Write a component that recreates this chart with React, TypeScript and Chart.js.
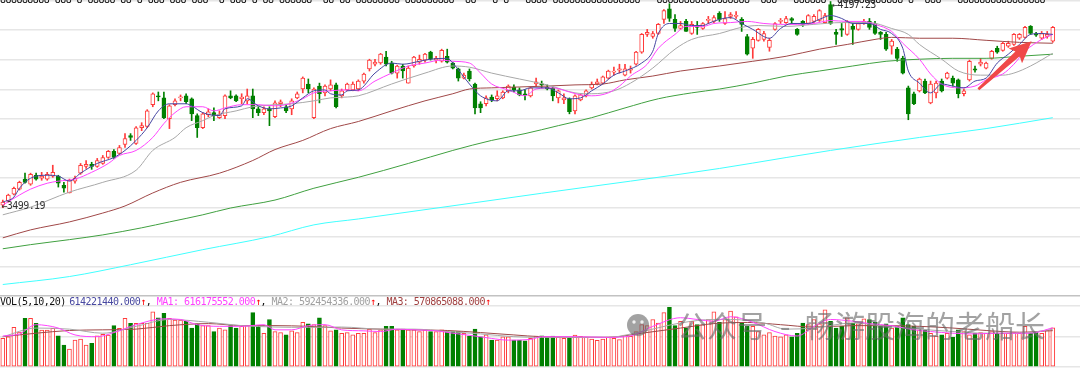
import React, { useEffect, useRef } from "react";
import { Chart, registerables } from "chart.js";

Chart.register(...registerables);

// ---------------- data (daily K-line, index 0..189) ----------------
const opens = [3508,3522,3545,3562,3596,3579,3609,3599,3596,3606,
3606,3575,3549,3589,3616,3639,3646,3639,3649,3669,
3690,3683,3713,3743,3717,3770,3774,3848,3878,3871,
3801,3848,3871,3878,3868,3811,3770,3814,3821,3804,
3811,3878,3878,3868,3861,3878,3834,3821,3834,3807,
3851,3841,3834,3871,3901,3918,3804,3911,3888,3901,
3915,3878,3898,3898,3901,3928,3969,3985,3989,4009,
3989,3955,3979,3921,3979,3992,3999,4026,3999,3995,
4012,3989,3969,3938,3962,3918,3851,3851,3874,3868,
3871,3895,3908,3898,3885,3878,3918,3918,3908,3905,
3871,3864,3868,3827,3864,3878,3905,3918,3921,3938,
3958,3965,3948,3965,3985,4026,4086,4079,4089,4137,
4173,4137,4106,4130,4089,4116,4106,4133,4130,4157,
4123,4147,4147,4137,4079,4039,4066,4069,4042,4103,
4130,4126,4140,4103,4130,4123,4130,4133,4126,4187,
4093,4106,4086,4113,4103,4126,4130,4123,4093,4086,
4046,4036,4005,3905,3885,3895,3928,3854,3888,3928,
3938,3938,3932,3885,3932,3969,3985,3972,4005,4039,
4032,4046,4052,4073,4076,4113,4089,4073,4079,4063];

const closes = [3518,3542,3565,3585,3585,3612,3596,3606,3612,3619,
3582,3565,3592,3599,3643,3646,3639,3659,3669,3690,
3669,3703,3733,3737,3770,3777,3827,3885,3874,3804,
3844,3861,3874,3858,3817,3770,3817,3824,3811,3814,
3878,3871,3861,3874,3878,3834,3821,3834,3827,3854,
3858,3827,3861,3885,3938,3901,3901,3885,3911,3915,
3841,3895,3918,3918,3928,3952,3999,3992,4019,3985,
3955,3979,3962,3972,4009,4002,4019,4002,4005,4032,
3992,3972,3938,3948,3935,3837,3837,3871,3864,3878,
3891,3911,3898,3881,3881,3905,3925,3915,3901,3878,
3895,3871,3824,3878,3881,3895,3918,3925,3942,3962,
3962,3969,3969,3969,4026,4086,4093,4089,4120,4167,
4140,4106,4116,4096,4120,4110,4123,4137,4143,4137,
4140,4153,4150,4120,4019,4069,4103,4089,4066,4123,
4133,4140,4133,4086,4120,4150,4147,4167,4150,4123,
4086,4100,4130,4103,4123,4130,4110,4089,4086,4036,
4063,4005,3955,3817,3851,3935,3888,3918,3921,3895,
3955,3921,3885,3895,3995,3965,3992,3989,4029,4026,
4056,4056,4086,4086,4110,4089,4083,4089,4086,4110];

const highs = [3525,3545,3569,3589,3616,3616,3616,3619,3619,3643,
3609,3585,3596,3606,3649,3659,3653,3666,3676,3693,
3696,3710,3750,3750,3774,3787,3831,3888,3891,3891,
3848,3868,3881,3885,3871,3817,3821,3834,3837,3827,
3881,3895,3881,3885,3901,3901,3841,3841,3841,3861,
3864,3848,3868,3891,3942,3935,3905,3921,3915,3932,
3921,3901,3921,3925,3932,3955,4002,4002,4022,4029,
3995,3982,3985,3979,4012,4016,4022,4029,4012,4036,
4036,3992,3972,3955,3969,3921,3858,3878,3881,3895,
3895,3915,3915,3905,3898,3908,3938,3928,3915,3908,
3898,3885,3871,3881,3885,3898,3925,3935,3945,3965,
3975,3985,3985,3979,4029,4089,4103,4096,4123,4170,
4190,4153,4130,4137,4130,4130,4126,4147,4150,4163,
4163,4160,4163,4143,4086,4076,4106,4096,4073,4126,
4140,4147,4143,4106,4133,4153,4153,4170,4157,4197.23,
4103,4123,4133,4123,4126,4137,4140,4130,4096,4093,
4069,4042,4012,3911,3891,3938,3935,3928,3928,3935,
3958,3945,3935,3901,3999,3979,4005,3992,4032,4046,
4059,4063,4089,4089,4113,4116,4093,4096,4096,4113];

const lows = [3499.19,3518,3542,3559,3582,3575,3592,3592,3592,3602,
3569,3552,3549,3582,3612,3632,3629,3636,3646,3666,
3666,3680,3703,3727,3713,3760,3770,3841,3861,3801,
3767,3844,3861,3851,3794,3737,3767,3807,3794,3801,
3801,3868,3858,3851,3851,3804,3811,3814,3777,3804,
3841,3821,3814,3868,3888,3888,3801,3854,3878,3895,
3837,3871,3895,3895,3895,3921,3962,3979,3985,3979,
3952,3938,3938,3921,3975,3985,3992,3999,3989,3992,
3989,3969,3928,3935,3928,3817,3821,3844,3858,3861,
3868,3888,3891,3878,3864,3874,3911,3905,3898,3861,
3854,3851,3817,3817,3861,3874,3901,3915,3918,3935,
3948,3955,3945,3955,3982,4022,4079,4073,4086,4123,
4130,4096,4103,4096,4086,4086,4103,4123,4126,4130,
4120,4140,4140,4096,4016,4005,4063,4063,4029,4100,
4123,4123,4123,4083,4113,4120,4126,4130,4123,4120,
4052,4079,4083,4052,4100,4120,4103,4086,4069,4032,
4019,3995,3952,3797,3848,3891,3885,3851,3871,3891,
3935,3911,3871,3878,3928,3958,3979,3969,4002,4022,
4029,4042,4049,4069,4073,4086,4079,4069,4073,4059];

// volume in millions of shares
const volumesM = [450,475,623,550,765,765,686,581,581,607,
491,345,283,424,440,345,372,491,513,502,
650,607,765,686,686,686,686,868,774,843,
765,738,738,719,612,680,650,650,557,612,
584,650,612,639,650,855,650,531,747,557,
540,504,570,540,700,680,665,774,650,570,
584,531,540,504,531,531,595,540,584,639,
639,584,595,584,584,557,584,557,557,584,
557,557,557,531,487,595,476,504,422,422,
476,476,422,422,410,449,487,490,470,485,
470,450,460,500,480,470,440,420,440,470,
450,430,500,480,557,665,650,747,692,855,
936,650,719,612,719,665,665,747,865,700,
747,880,790,692,639,639,557,504,540,487,
476,504,476,531,692,665,747,680,898,719,
612,639,774,692,680,758,747,700,639,680,
612,639,774,665,639,584,584,531,487,504,
531,465,584,557,504,531,540,531,557,531,
531,531,540,531,639,531,557,531,575,614.22144];

// price moving averages, read at sample indices
const ma5X = [0,2,3,5,8,10,12,14,17,20,22,24,26,28,30,31,33,34,36,39,40,43,44,46,48,50,52,54,56,58,59,61,62,64,67,70,72,75,77,80,81,84,86,89,91,93,95,98,100,102,104,106,108,110,112,115,117,118,120,122,124,126,127,129,131,133,135,138,140,142,145,147,149,151,153,156,158,160,162,163,165,167,169,171,173,175,177,179,181,183,185,187,189];
const ma5Y = [3518,3535,3565,3599,3609,3606,3589,3616,3649,3669,3693,3727,3770,3827,3851,3851,3851,3844,3821,3811,3834,3844,3868,3844,3834,3837,3844,3871,3895,3898,3885,3881,3895,3898,3955,3989,3985,3995,4002,4005,3989,3918,3878,3861,3895,3895,3905,3905,3888,3868,3871,3895,3918,3948,3962,3989,4029,4089,4123,4123,4116,4116,4123,4137,4143,4123,4103,4073,4106,4123,4123,4137,4150,4140,4123,4123,4103,4089,4039,3962,3921,3888,3918,3911,3905,3928,3938,3989,4019,4052,4086,4089,4086];

const ma10X = [0,3,5,8,10,13,16,19,21,24,27,29,31,33,36,38,40,43,46,49,51,54,56,59,62,64,67,70,73,76,79,81,84,86,88,91,94,96,99,102,104,106,109,111,113,116,118,121,123,126,128,131,134,137,140,143,146,149,152,155,157,160,162,165,167,169,172,175,177,180,182,184,187,189];
const ma10Y = [3508,3542,3562,3582,3589,3596,3619,3649,3676,3693,3737,3784,3821,3841,3841,3827,3837,3848,3848,3844,3848,3868,3888,3895,3898,3895,3928,3955,3979,3989,3999,3995,3989,3955,3918,3898,3878,3901,3905,3891,3881,3878,3888,3911,3945,3985,4039,4086,4113,4113,4123,4126,4130,4123,4120,4120,4123,4133,4130,4130,4120,4096,4056,4002,3952,3918,3905,3911,3932,3952,3985,4029,4069,4086];

const ma20X = [0,5,12,18,24,27,31,33,36,38,42,45,49,52,56,59,62,64,70,76,81,84,88,93,98,103,106,110,113,117,121,124,129,133,136,141,146,151,156,160,163,165,169,172,176,180,182,185,189];
const ma20Y = [3475,3501,3552,3585,3626,3693,3737,3770,3794,3811,3827,3841,3848,3851,3861,3871,3874,3878,3918,3955,3979,3975,3955,3935,3915,3888,3885,3895,3921,3972,4036,4069,4089,4110,4116,4113,4120,4126,4126,4106,4086,4052,4002,3962,3948,3948,3955,3979,4022];

const ma60X = [0,5,12,18,22,27,32,39,45,49,54,59,64,70,76,81,84,88,93,98,103,108,112,117,122,129,135,141,147,152,157,160,165,171,177,183,189];
const ma60Y = [3397,3424,3451,3481,3505,3549,3585,3616,3659,3696,3727,3767,3791,3827,3861,3885,3901,3905,3908,3911,3915,3918,3932,3945,3962,3979,3995,4012,4036,4052,4069,4076,4073,4073,4066,4059,4056];

const ma120X = [0,5,12,18,25,30,36,41,49,56,64,73,81,88,94,100,106,112,118,124,129,135,141,147,153,159,165,171,177,183,189];
const ma120Y = [3360,3374,3391,3407,3431,3451,3475,3498,3525,3565,3602,3649,3693,3727,3750,3777,3804,3837,3868,3888,3901,3921,3945,3962,3979,3995,4002,4005,4005,4012,4019];

const ma250X = [0,12,23,36,48,56,64,97,129,141,149,165,177,189];
const ma250Y = [3239,3266,3306,3357,3401,3441,3461,3548,3632,3669,3693,3737,3767,3804];

// volume moving averages (millions)
const vma1X = [0,3,6,8,10,13,17,20,24,29,32,35,39,43,47,49,52,55,58,61,65,68,71,74,78,81,85,88,91,95,97,103,109,113,117,122,125,128,131,135,139,143,146,149,153,156,160,164,167,171,175,179,182,185,189];
const vma1Y = [487,520,665,650,612,504,476,541,665,758,747,665,639,639,665,584,584,650,665,584,568,557,595,584,568,531,487,449,422,433,476,476,466,487,639,774,747,719,790,703,557,487,639,747,719,682,650,584,557,531,520,531,531,531,616];
const vma2X = [0,6,12,18,24,30,37,43,49,55,61,68,74,80,86,92,97,109,115,122,128,131,137,141,146,153,159,165,171,177,183,189];
const vma2Y = [476,612,595,531,639,747,703,650,628,623,628,595,595,557,520,476,466,466,557,692,747,747,692,595,612,692,639,595,557,531,531,592];
const vma3X = [0,6,12,18,24,30,37,43,49,55,61,68,74,80,86,92,97,109,115,122,128,134,140,146,153,159,165,171,177,183,189];
const vma3Y = [476,531,574,584,595,650,682,650,650,639,612,595,584,574,541,504,476,466,531,612,682,700,665,628,650,650,639,612,574,547,571];

const volMaLatest = [616175552, 592454336, 570865088];

// grid levels
const priceGrid = [3200, 3300, 3400, 3500, 3600, 3700, 3800, 3900, 4000, 4100, 4200];
const volGrid = [0, 480, 960];

// annotation arrow (index, price)
const arrowFrom = [175.6, 3900];
const arrowTo = [185.2, 4063];

// clipped text row at the top edge
const topRowText = "888888888 888 8 88888 88 8 888 888 888  8 888 8 88 888888  88 88 88888888 888888888  88   8 8   8888 8888888888888888   88888888888888888  888   888888  888888888888 8  888   8888888888888888";

// ---------------- layout / style ----------------
const X_MIN = -0.5;
const X_MAX = 193.9;
const PRICE_MIN = 3196.7;
const PRICE_MAX = 4202.5;
const VOL_MAX = 1100;
const UP = "#ff3b3b";
const DOWN = "#008000";
const MONO = '10px "DejaVu Sans Mono"';

const idx = opens.map((_, i) => i);
const isUp = idx.map((i) => closes[i] >= opens[i]);
const candleColor = isUp.map((u) => (u ? UP : DOWN));

function pts(xs: number[], ys: number[]) {
  return xs.map((x, k) => ({ x, y: ys[k] }));
}

function lineDs(xs: number[], ys: number[], color: string) {
  return {
    type: "line",
    data: pts(xs, ys),
    borderColor: color,
    borderWidth: 1,
    pointRadius: 0,
    cubicInterpolationMode: "monotone",
    order: 0,
  };
}

const mainDecor = {
  id: "mainDecor",
  afterDatasetsDraw(chart: any) {
    const { ctx } = chart;
    const xs = chart.scales.x;
    const ys = chart.scales.y;
    ctx.save();
    ctx.font = MONO;
    ctx.letterSpacing = "-0.55px";
    ctx.textAlign = "left";
    // clipped text row
    ctx.fillStyle = "#111";
    ctx.textBaseline = "alphabetic";
    ctx.fillText(topRowText, 0, 3);
    // extreme labels
    ctx.fillStyle = "#333";
    ctx.textBaseline = "middle";
    const lo = Math.min(...lows);
    const li = lows.indexOf(lo);
    ctx.fillText("\u2190" + lo.toFixed(2), xs.getPixelForValue(li) - 1.5, ys.getPixelForValue(lo) - 1);
    const hi = Math.max(...highs);
    const hiI = highs.indexOf(hi);
    ctx.fillText("\u2190" + hi.toFixed(2), xs.getPixelForValue(hiI) + 1.5, ys.getPixelForValue(hi) + 3.5);
    // red arrow
    const x1 = xs.getPixelForValue(arrowFrom[0]);
    const y1 = ys.getPixelForValue(arrowFrom[1]);
    const x2 = xs.getPixelForValue(arrowTo[0]);
    const y2 = ys.getPixelForValue(arrowTo[1]);
    const ang = Math.atan2(y2 - y1, x2 - x1);
    const len = Math.hypot(x2 - x1, y2 - y1);
    ctx.translate(x1, y1);
    ctx.rotate(ang);
    ctx.beginPath();
    ctx.moveTo(0, -1.3);
    ctx.lineTo(len - 19, -3.2);
    ctx.lineTo(len - 22, -10);
    ctx.lineTo(len, 0);
    ctx.lineTo(len - 22, 10);
    ctx.lineTo(len - 19, 3.2);
    ctx.lineTo(0, 1.3);
    ctx.closePath();
    ctx.fillStyle = "#f04848";
    ctx.fill();
    ctx.restore();
  },
};

const volDecor = {
  id: "volDecor",
  afterDatasetsDraw(chart: any) {
    const { ctx } = chart;
    ctx.save();
    // watermark
    const wm = "rgba(105,105,105,0.62)";
    ctx.fillStyle = wm;
    ctx.beginPath();
    ctx.arc(638, 28, 11, 0, Math.PI * 2);
    ctx.fill();
    ctx.fillStyle = "rgba(255,255,255,0.85)";
    ctx.beginPath();
    ctx.arc(634, 25, 1.7, 0, Math.PI * 2);
    ctx.arc(642, 25, 1.7, 0, Math.PI * 2);
    ctx.fill();
    ctx.fillStyle = wm;
    ctx.textBaseline = "middle";
    ctx.textAlign = "left";
    ctx.font = '30px "Noto Sans CJK SC"';
    ctx.letterSpacing = "0px";
    ctx.fillText("公众号", 677, 29);
    ctx.fillText("-", 780, 29);
    ctx.fillText("畅游股海的老船长", 805, 29);

    // header text
    ctx.font = MONO;
    ctx.letterSpacing = "-0.55px";
    ctx.textBaseline = "middle";
    let hx = 0;
    const hy = 5.5;
    const seg = (t: string, c: string) => {
      ctx.fillStyle = c;
      ctx.fillText(t, hx, hy);
      hx += ctx.measureText(t).width;
    };
    const latestVol = Math.round(volumesM[volumesM.length - 1] * 1e6);
    seg("VOL(5,10,20)", "#111");
    hx += 3.5;
    seg(latestVol.toFixed(3), "#4848a0");
    seg("\u2191", "#ff0000");
    seg(", ", "#111");
    seg("MA1: " + volMaLatest[0].toFixed(3), "#ff40ff");
    seg("\u2191", "#ff0000");
    seg(", ", "#111");
    seg("MA2: " + volMaLatest[1].toFixed(3), "#a0a0a0");
    seg("\u2191", "#ff0000");
    seg(", ", "#111");
    seg("MA3: " + volMaLatest[2].toFixed(3), "#a04040");
    seg("\u2191", "#ff0000");
    ctx.restore();
  },
};

function MainChart() {
  const ref = useRef<HTMLCanvasElement>(null);
  useEffect(() => {
    const wicks = idx.map((i) => ({ x: i, y: [lows[i], highs[i]] }));
    const bodies = idx.map((i) => ({
      x: i,
      y: [Math.min(opens[i], closes[i]), Math.max(opens[i], closes[i])],
    }));
    const chart = new Chart(ref.current as HTMLCanvasElement, {
      type: "bar",
      data: {
        datasets: [
          lineDs(ma5X, ma5Y, "#4646a2"),
          lineDs(ma10X, ma10Y, "#ff44ff"),
          lineDs(ma20X, ma20Y, "#a8a8a8"),
          lineDs(ma60X, ma60Y, "#a04848"),
          lineDs(ma120X, ma120Y, "#40a040"),
          lineDs(ma250X, ma250Y, "#40ffff"),
          {
            type: "bar",
            data: bodies,
            backgroundColor: isUp.map((u) => (u ? "#ffffff" : DOWN)),
            borderColor: candleColor,
            borderWidth: 1,
            borderSkipped: false,
            barThickness: 4,
            grouped: false,
            minBarLength: 1,
            order: 1,
          },
          {
            type: "bar",
            data: wicks,
            backgroundColor: candleColor,
            borderWidth: 0,
            barThickness: 1,
            grouped: false,
            order: 2,
          },
        ] as any,
      },
      options: {
        responsive: false,
        animation: false,
        events: [],
        layout: { padding: 0 },
        plugins: { legend: { display: false }, tooltip: { enabled: false } },
        scales: {
          x: { type: "linear", min: X_MIN, max: X_MAX, offset: false, display: false },
          y: {
            type: "linear",
            min: PRICE_MIN,
            max: PRICE_MAX,
            afterBuildTicks: (s: any) => {
              s.ticks = priceGrid.map((v) => ({ value: v }));
            },
            ticks: { display: false },
            grid: {
              color: (c: any) => (c.tick && c.tick.value === priceGrid[0] ? "#c2c2c2" : "#e6e6e6"),
              lineWidth: 1.6,
              drawTicks: false,
            },
            border: { display: false },
          },
        },
      } as any,
      plugins: [mainDecor],
    });
    return () => chart.destroy();
  }, []);
  return <canvas ref={ref} width={1080} height={297} style={{ display: "block" }} />;
}

function VolumeChart() {
  const ref = useRef<HTMLCanvasElement>(null);
  useEffect(() => {
    const bars = idx.map((i) => ({ x: i, y: volumesM[i] }));
    const chart = new Chart(ref.current as HTMLCanvasElement, {
      type: "bar",
      data: {
        datasets: [
          lineDs(vma1X, vma1Y, "#ff44ff"),
          lineDs(vma2X, vma2Y, "#a8a8a8"),
          lineDs(vma3X, vma3Y, "#a04848"),
          {
            type: "bar",
            data: bars,
            backgroundColor: isUp.map((u) => (u ? "#ffffff" : DOWN)),
            borderColor: candleColor,
            borderWidth: 1,
            borderSkipped: false,
            barThickness: 4,
            grouped: false,
            order: 1,
          },
        ] as any,
      },
      options: {
        responsive: false,
        animation: false,
        events: [],
        layout: { padding: { left: 0, right: 0, top: 0, bottom: 6 } },
        plugins: { legend: { display: false }, tooltip: { enabled: false } },
        scales: {
          x: { type: "linear", min: X_MIN, max: X_MAX, offset: false, display: false },
          y: {
            type: "linear",
            min: 0,
            max: VOL_MAX,
            afterBuildTicks: (s: any) => {
              s.ticks = volGrid.map((v) => ({ value: v }));
            },
            ticks: { display: false },
            grid: { color: "#e6e6e6", lineWidth: 1.6, drawTicks: false },
            border: { display: false },
          },
        },
      } as any,
      plugins: [volDecor],
    });
    return () => chart.destroy();
  }, []);
  return <canvas ref={ref} width={1080} height={76} style={{ display: "block" }} />;
}

export default function App() {
  return (
    <div
      style={{
        position: "absolute",
        left: 0,
        top: 0,
        width: 1080,
        height: 373,
        background: "#ffffff",
        overflow: "hidden",
      }}
    >
      <MainChart />
      <VolumeChart />
    </div>
  );
}
